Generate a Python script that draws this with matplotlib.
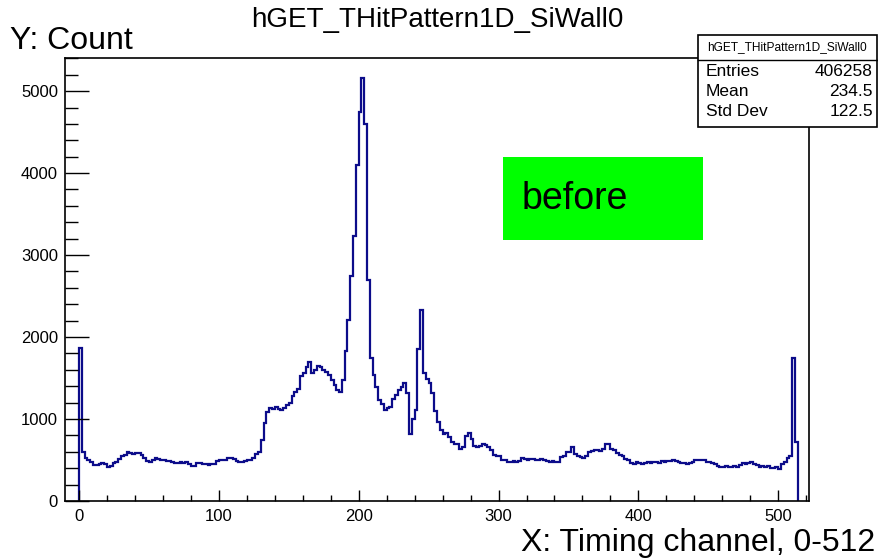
import numpy as np
import matplotlib
matplotlib.use("Agg")
import matplotlib.pyplot as plt
from matplotlib.patches import Rectangle
from matplotlib.lines import Line2D
from matplotlib.ticker import MultipleLocator

plt.rcParams['font.family'] = ['Liberation Sans', 'DejaVu Sans']

# ---------------- data ----------------
title = "hGET_THitPattern1D_SiWall0"
x_label = "X: Timing channel, 0-512"
y_label = "Y: Count"
stats_names = ["Entries", "Mean", "Std Dev"]
stats_values = ["406258", "234.5", "122.5"]
annotation = "before"

bin_width = 2
first_edge = 0
counts = [
    1866, 600, 520, 500, 475, 440, 435, 450, 465, 455,
    420, 425, 460, 470, 510, 545, 565, 600, 585, 570,
    580, 590, 560, 520, 490, 475, 505, 525, 515, 500,
    505, 490, 485, 480, 460, 465, 470, 465, 470, 450,
    425, 430, 460, 465, 455, 450, 445, 455, 450, 490,
    505, 500, 495, 520, 525, 515, 490, 480, 475, 485,
    500, 495, 520, 575, 600, 740, 950, 1080, 1130, 1120,
    1145, 1125, 1110, 1140, 1175, 1200, 1280, 1330, 1370, 1520,
    1560, 1640, 1690, 1560, 1600, 1650, 1630, 1600, 1570, 1540,
    1470, 1420, 1350, 1330, 1480, 1830, 2210, 2740, 3230, 4100,
    4750, 5160, 4600, 2700, 1750, 1540, 1390, 1230, 1180, 1110,
    1130, 1150, 1250, 1290, 1360, 1390, 1440, 1320, 820, 1000,
    1110, 1850, 2330, 1560, 1490, 1440, 1320, 1100, 960, 860,
    820, 830, 780, 720, 700, 690, 640, 660, 790, 830,
    760, 665, 660, 675, 700, 680, 660, 620, 560, 555,
    545, 500, 505, 480, 470, 490, 475, 485, 525, 510,
    505, 515, 510, 500, 505, 515, 500, 485, 475, 490,
    480, 470, 540, 545, 600, 595, 660, 570, 555, 540,
    530, 545, 600, 610, 620, 625, 615, 640, 700, 690,
    630, 620, 580, 560, 545, 510, 495, 465, 455, 470,
    460, 450, 465, 470, 465, 475, 470, 460, 485, 475,
    490, 485, 495, 490, 480, 460, 465, 455, 460, 470,
    500, 505, 495, 500, 480, 470, 465, 455, 425, 420,
    420, 425, 415, 420, 430, 420, 440, 460, 455, 465,
    470, 455, 440, 420, 425, 410, 425, 405, 400, 410,
    395, 455, 470, 530, 555, 1740, 720,
]
x_ticks = [0, 100, 200, 300, 400, 500]
y_ticks = [0, 1000, 2000, 3000, 4000, 5000]
x_range = (-10, 522)
y_range = (0, 5410)

# ---------------- layout helpers ----------------
W, H = 879, 560
def fx(px):
    return px / W
def fy(py):
    return 1 - py / H

fig = plt.figure(figsize=(W / 100, H / 100), dpi=100)
fig.patch.set_facecolor('white')

ax = fig.add_axes([fx(65), fy(501), (809 - 65) / W, (501 - 57.5) / H])

edges = first_edge + bin_width * np.arange(len(counts) + 1)
ax.stairs(counts, edges, color='#0c0c8a', linewidth=1.6, baseline=0)

ax.set_xlim(*x_range)
ax.set_ylim(*y_range)
ax.set_xticks(x_ticks)
ax.set_yticks(y_ticks)
ax.xaxis.set_minor_locator(MultipleLocator(20))
ax.yaxis.set_minor_locator(MultipleLocator(200))

ax.tick_params(axis='x', which='major', direction='in', length=7.9, width=1.0,
               labelsize=12, pad=6, top=False)
ax.tick_params(axis='x', which='minor', direction='in', length=4.3, width=1.0, top=False)
ax.tick_params(axis='y', which='major', direction='in', length=17.3, width=1.0,
               labelsize=12, pad=5, right=False)
ax.tick_params(axis='y', which='minor', direction='in', length=9.4, width=1.0, right=False)
for s in ax.spines.values():
    s.set_linewidth(1.2)
    s.set_color('black')

# titles / axis labels
fig.text(fx(437), fy(20), title, ha='center', va='center', fontsize=20)
fig.text(fx(10), fy(41), y_label, ha='left', va='center', fontsize=23)
fig.text(fx(875), fy(543), x_label, ha='right', va='center', fontsize=23)

# stats box
box = Rectangle((fx(698), fy(127)), (877.5 - 698) / W, (127 - 35) / H,
                transform=fig.transFigure, facecolor='white', edgecolor='black',
                linewidth=1.2, zorder=5)
fig.add_artist(box)
fig.add_artist(Line2D([fx(698), fx(877.5)], [fy(59.5), fy(59.5)],
                      transform=fig.transFigure, color='black', linewidth=1.0, zorder=6))
fig.text(fx(787), fy(47.5), title, ha='center', va='center', fontsize=8.6, zorder=7)
row_y = [72, 91.5, 111]
for name, val, yy in zip(stats_names, stats_values, row_y):
    fig.text(fx(706), fy(yy), name, ha='left', va='center', fontsize=12.5, zorder=7)
    fig.text(fx(873), fy(yy), val, ha='right', va='center', fontsize=12.5, zorder=7)

# green annotation box
gbox = Rectangle((fx(503), fy(240)), (703 - 503) / W, (240 - 157) / H,
                 transform=fig.transFigure, facecolor='#00ff00', edgecolor='none', zorder=5)
fig.add_artist(gbox)
fig.text(fx(522), fy(199), annotation, ha='left', va='center', fontsize=27,
         color='black', zorder=7)

fig.savefig("out.png", dpi=100)
